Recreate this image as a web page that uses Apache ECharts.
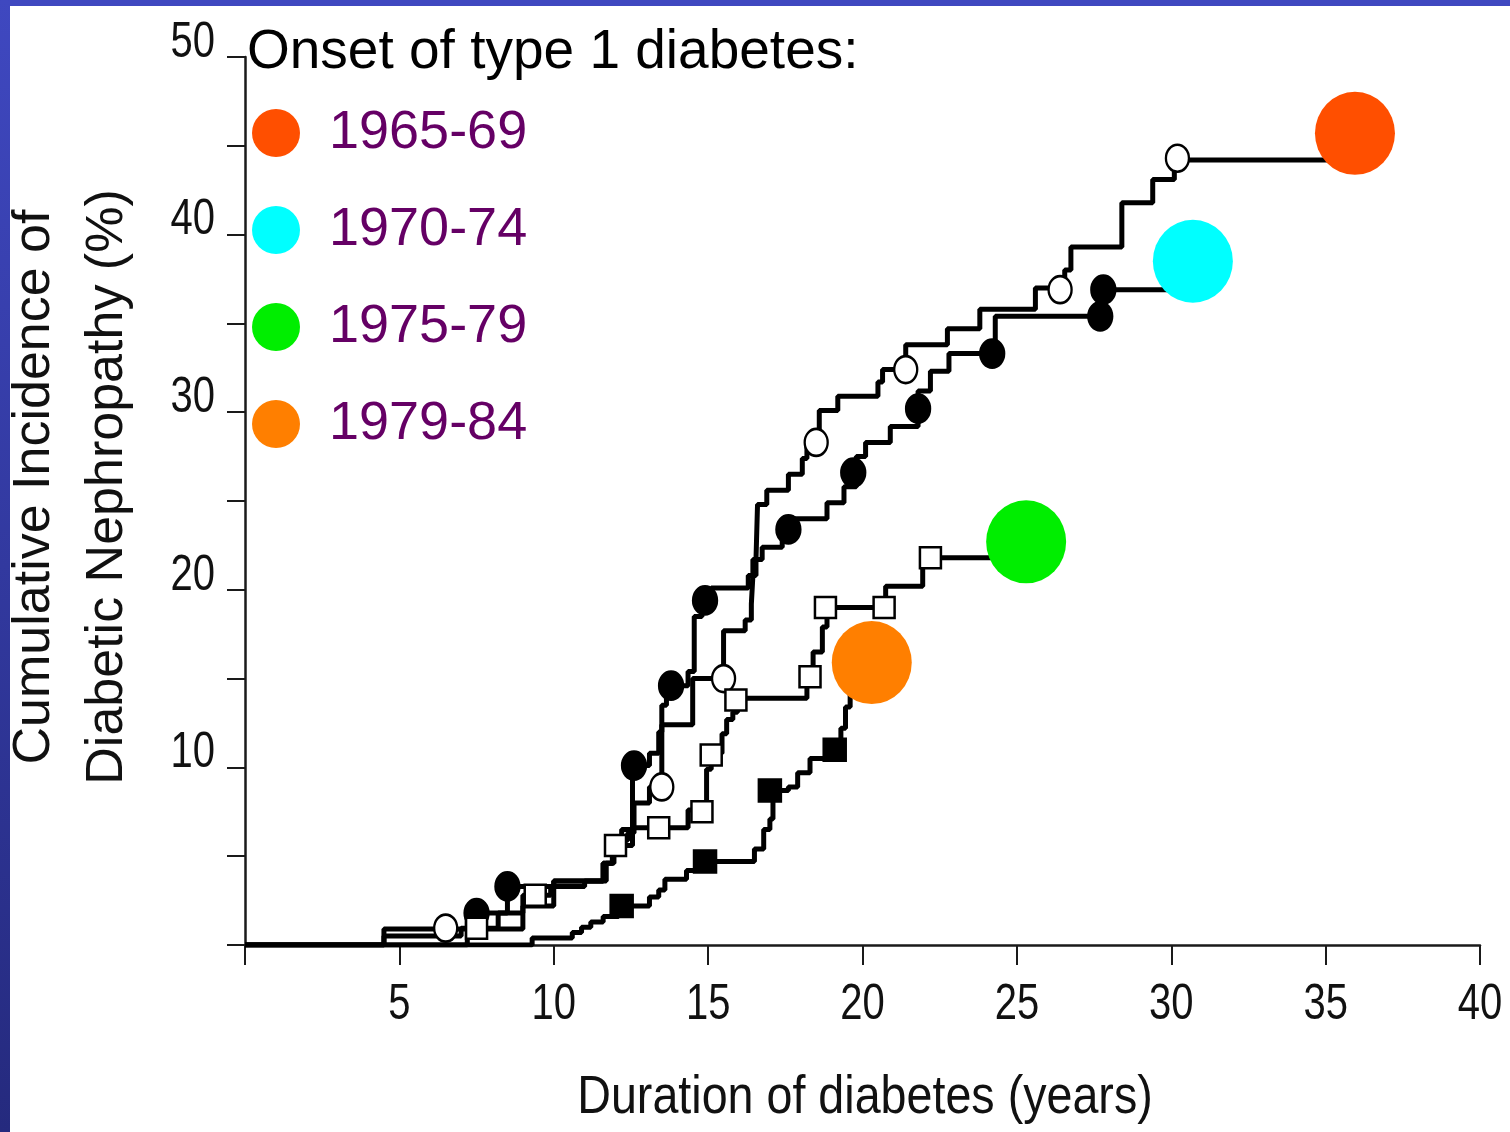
<!DOCTYPE html>
<html>
<head>
<meta charset="utf-8">
<script src="https://cdn.jsdelivr.net/npm/echarts@6/dist/echarts.min.js"></script>
<style>
html,body{margin:0;padding:0;background:#fff;}
#chart{width:1510px;height:1132px;}
</style>
</head>
<body>
<div id="chart"></div>
<script>
// ---- data (years since onset, cumulative incidence %) ----
const cohortNames = ['1965-69', '1970-74', '1975-79', '1979-84'];
const cohortColors = ['#ff4f00', '#00ffff', '#00ee00', '#ff7f00'];

const curve6569 = [[0,0],[4.5,0.9],[9.0,2.2],[10.0,3.6],[11.6,4.6],[11.9,5.3],[12.2,5.9],[12.4,6.3],[12.6,8.0],[13.1,8.9],[13.5,12.4],[14.5,15.0],[15.5,17.7],[16.2,18.3],[16.4,19.2],[16.45,20.8],[16.55,21.7],[16.6,24.8],[16.9,25.6],[17.6,26.5],[18.05,27.4],[18.2,28.1],[18.6,30.1],[19.2,30.9],[20.5,31.7],[20.65,32.4],[21.4,33.8],[22.75,34.7],[23.8,35.8],[25.6,37.0],[26.55,38.0],[26.75,39.3],[28.4,41.8],[29.4,43.1],[30.1,44.2],[35.4,44.2]];
const curve7074 = [[0,0],[7.2,1.8],[8.5,3.3],[10.0,3.6],[11.6,4.6],[11.9,5.3],[12.2,6.5],[12.55,10.1],[13.1,10.8],[13.4,12.0],[13.5,13.5],[13.65,14.6],[14.35,15.4],[14.55,18.5],[14.8,19.4],[15.1,20.1],[16.3,20.8],[16.45,21.7],[16.75,22.4],[17.4,23.4],[17.8,24.0],[18.85,24.9],[19.4,25.8],[19.8,27.5],[20.1,28.3],[20.9,29.2],[21.8,31.2],[22.2,32.3],[22.8,33.3],[24.3,35.4],[27.75,36.9],[30.3,36.9]];
const curve7579 = [[0,0],[4.5,0.5],[7.0,0.95],[8.2,1.8],[9.0,2.8],[9.9,3.3],[11.0,3.6],[11.7,4.6],[11.95,5.6],[12.55,6.6],[14.35,7.6],[14.95,9.9],[15.1,10.8],[15.45,11.9],[15.6,12.7],[15.8,13.1],[15.95,13.9],[18.2,15.1],[18.4,16.5],[18.7,17.9],[18.85,19.0],[20.75,20.2],[21.95,21.8],[24.9,21.8]];
const curve7984 = [[0,0],[9.3,0.4],[10.6,0.7],[10.9,1.0],[11.2,1.3],[11.6,1.6],[12.1,2.2],[13.1,2.7],[13.4,3.1],[13.6,3.7],[14.3,4.2],[14.8,4.7],[16.5,5.4],[16.8,6.5],[17.0,7.1],[17.1,8.7],[17.6,8.9],[17.9,9.7],[18.3,10.5],[19.2,10.9],[19.3,12.2],[19.45,13.4],[19.6,14.8],[19.8,15.6]];

const marks6569 = [[6.5,0.95],[13.5,8.9],[15.5,15.0],[18.5,28.3],[21.4,32.4],[26.4,36.9],[30.2,44.3]];
const marks7074 = [[7.5,1.8],[8.5,3.3],[12.6,10.1],[13.8,14.6],[14.9,19.4],[17.6,23.4],[19.7,26.6],[21.8,30.2],[24.2,33.3],[27.7,35.4],[27.8,36.9]];
const marks7579 = [[7.5,0.95],[9.4,2.8],[12.0,5.6],[13.4,6.6],[14.8,7.5],[15.1,10.7],[15.9,13.8],[18.3,15.1],[18.8,19.0],[20.7,19.0],[22.2,21.8]];
const marks7984 = [[12.2,2.2],[14.9,4.7],[17.0,8.7],[19.1,11.0]];

const endDots = [[35.95,45.7],[30.7,38.5],[25.3,22.7],[20.3,15.9]];

const xTicks = [5,10,15,20,25,30,35,40];
const yTicks = [10,20,30,40,50];

const titleText = 'Onset of type 1 diabetes:';
const xName = 'Duration of diabetes (years)';
const yName1 = 'Cumulative Incidence of';
const yName2 = 'Diabetic Nephropathy (%)';

// ---- build chart ----
const chart = echarts.init(document.getElementById('chart'), null, {renderer:'canvas'});
const sans = "'Liberation Sans',Arial,sans-serif";

const curves = [curve6569, curve7074, curve7579, curve7984];
const marks = [marks6569, marks7074, marks7579, marks7984];
const markStyles = [
  {symbol:'circle', size:[23,27], color:'#fff'},
  {symbol:'circle', size:[24,28], color:'#000'},
  {symbol:'rect', size:[21,21], color:'#fff'},
  {symbol:'rect', size:[22,22], color:'#000'}
];

const series = [];
curves.forEach((c, i) => {
  series.push({
    type:'line', name:'curve ' + cohortNames[i], data:c, step:'end',
    showSymbol:false, symbol:'none', silent:true, z:3,
    lineStyle:{color:'#000', width:5}
  });
});
marks.forEach((m, i) => {
  const s = markStyles[i];
  series.push({
    type:'scatter', name:'marks ' + cohortNames[i], data:m, symbol:s.symbol, symbolSize:s.size,
    z:4, silent:true,
    itemStyle:{color:s.color, borderColor:'#000', borderWidth:2.5, opacity:1}
  });
});
cohortNames.forEach((n, i) => {
  series.push({
    type:'scatter', name:n, data:[endDots[i]], symbol:'circle', symbolSize:[80,83],
    z:6, silent:true, itemStyle:{color:cohortColors[i], opacity:1}
  });
});

const option = {
  backgroundColor:'#ffffff',
  animation:false,
  title:{
    text:titleText, left:242, top:20,
    textStyle:{fontFamily:sans, fontSize:55, fontWeight:'normal', color:'#000'}
  },
  legend:{
    data:cohortNames, orient:'vertical', left:247, top:101,
    itemWidth:48, itemHeight:48, itemGap:43, icon:'circle',
    selectedMode:false,
    textStyle:{fontFamily:sans, fontSize:54, color:'#650065', padding:[4,0,0,24]}
  },
  grid:{left:245, right:30, top:57, bottom:187, containLabel:false},
  xAxis:{
    type:'value', min:0, max:40, interval:5,
    axisLine:{show:true, onZero:false, lineStyle:{color:'#1a1a1a', width:2.5}},
    axisTick:{show:true, inside:false, length:20, lineStyle:{color:'#1a1a1a', width:2}},
    axisLabel:{show:false},
    splitLine:{show:false}
  },
  yAxis:{
    type:'value', min:0, max:50, interval:5,
    axisLine:{show:true, onZero:false, lineStyle:{color:'#1a1a1a', width:2.5}},
    axisTick:{show:true, inside:false, length:18, lineStyle:{color:'#1a1a1a', width:2}},
    axisLabel:{show:false},
    splitLine:{show:false}
  },
  series:series
};
chart.setOption(option);

// ---- condensed tick labels and axis titles, positioned through the chart's own scales ----
const labelFont = {fontFamily:sans, fontSize:50, fill:'#111'};
const graphics = [
  {type:'rect', id:'topbar', left:0, top:0, shape:{width:1510, height:6}, style:{fill:'#3f48c0'}, z:100},
  {type:'rect', id:'leftbar', left:0, top:0, shape:{width:10, height:1132},
    style:{fill:new echarts.graphic.LinearGradient(0,0,0,1,[{offset:0,color:'#3f48c0'},{offset:1,color:'#252a7e'}])}, z:100},
  {type:'text', id:'yname1', x:35, y:487, rotation:Math.PI/2,
    style:{text:yName1, fontFamily:sans, fontSize:52, fill:'#111', textAlign:'center', textVerticalAlign:'middle'}},
  {type:'text', id:'yname2', x:108, y:487, rotation:Math.PI/2,
    style:{text:yName2, fontFamily:sans, fontSize:52, fill:'#111', textAlign:'center', textVerticalAlign:'middle'}},
  {type:'text', id:'xname', x:865, y:1098, scaleX:0.88,
    style:{text:xName, fontFamily:sans, fontSize:53, fill:'#111', textAlign:'center', textVerticalAlign:'middle'}}
];
xTicks.forEach(v => {
  const p = chart.convertToPixel({gridIndex:0}, [v, 0]);
  graphics.push({type:'text', id:'xl' + v, x:p[0], y:p[1] + 60, scaleX:0.8,
    style:Object.assign({text:String(v), textAlign:'center', textVerticalAlign:'middle'}, labelFont)});
});
yTicks.forEach(v => {
  const p = chart.convertToPixel({gridIndex:0}, [0, v]);
  graphics.push({type:'text', id:'yl' + v, x:p[0] - 30, y:p[1] - 14, scaleX:0.8,
    style:Object.assign({text:String(v), textAlign:'right', textVerticalAlign:'middle'}, labelFont)});
});
chart.setOption({graphic:graphics});
</script>
</body>
</html>
